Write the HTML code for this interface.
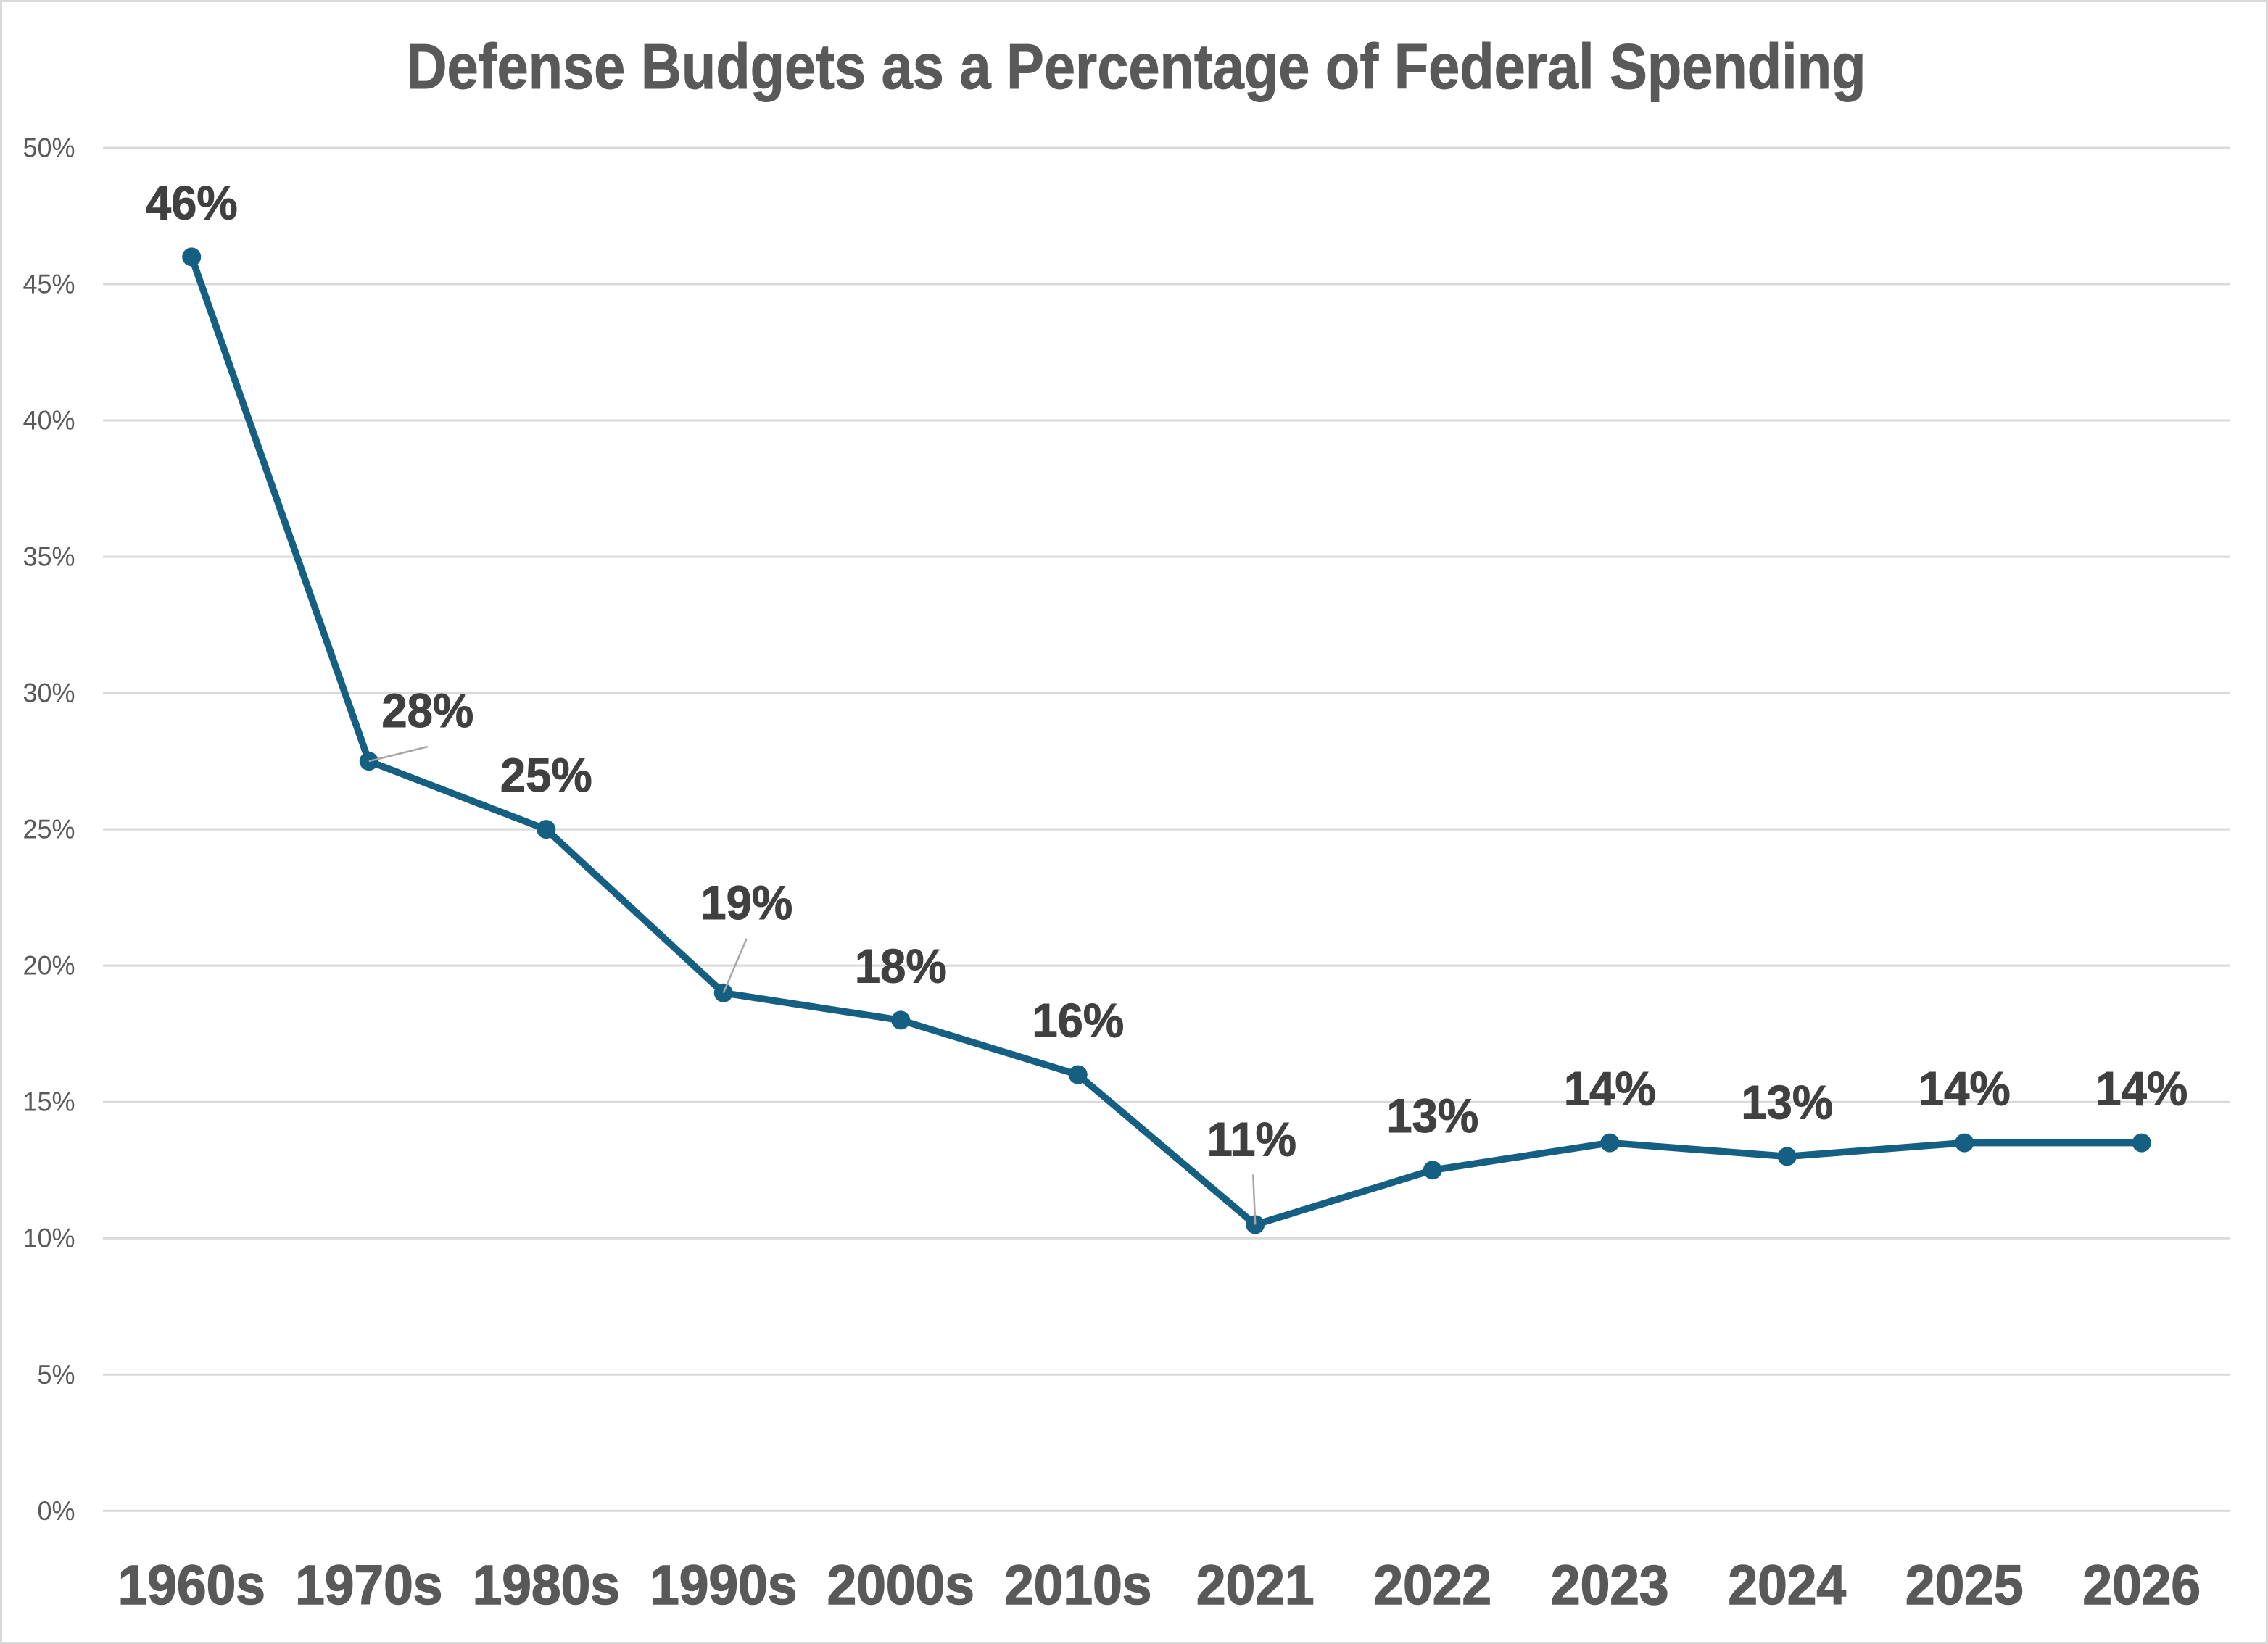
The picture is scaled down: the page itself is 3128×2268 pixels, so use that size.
<!DOCTYPE html>
<html lang="en">
<head>
<meta charset="utf-8">
<title>Defense Budgets as a Percentage of Federal Spending</title>
<style>
html,body{margin:0;padding:0;background:#fff;width:3128px;height:2268px;overflow:hidden}
svg{display:block}
text{font-family:"Liberation Sans",sans-serif}
</style>
</head>
<body>
<svg id="chart" xmlns="http://www.w3.org/2000/svg" width="3128" height="2268" viewBox="0 0 3128 2268">
  <rect x="1.5" y="1.5" width="3125" height="2265" fill="#ffffff" stroke="#d9d9d9" stroke-width="3"/>
  <text x="1567" y="122" text-anchor="middle" font-size="88" font-weight="700" fill="#595959" stroke="#595959" stroke-width="1" textLength="2013" lengthAdjust="spacingAndGlyphs">Defense Budgets as a Percentage of Federal Spending</text>
  <g id="grid"></g>
  <g id="yticks"></g>
  <g id="xticks"></g>
  <g id="leaders"></g>
  <g id="series"></g>
  <g id="labels"></g>
</svg>
<script>
const categories = ["1960s","1970s","1980s","1990s","2000s","2010s","2021","2022","2023","2024","2025","2026"];
const defenseShare = [46,27.5,25,19,18,16,10.5,12.5,13.5,13,13.5,13.5];
const valueLabels = ["46%","28%","25%","19%","18%","16%","11%","13%","14%","13%","14%","14%"];
const yTicks = [0,5,10,15,20,25,30,35,40,45,50];

const plot = {left:142, right:3076, top:204, bottom:2084.3};
const yMax = 50;
const NS = "http://www.w3.org/2000/svg";
const xScale = i => plot.left + (plot.right - plot.left) * (i + 0.5) / categories.length;
const yScale = v => plot.bottom - (plot.bottom - plot.top) * v / yMax;
const make = (parent, tag, attrs, content) => {
  const el = document.createElementNS(NS, tag);
  for (const k in attrs) el.setAttribute(k, attrs[k]);
  if (content !== undefined) el.textContent = content;
  document.getElementById(parent).appendChild(el);
  return el;
};

yTicks.forEach(t => {
  const y = yScale(t);
  const line = make("grid", "line", {x1:plot.left, x2:plot.right, y1:y, y2:y, stroke:"#d9d9d9", "stroke-width":3});
  
  
  const label = make("yticks", "text", {transform:`translate(103.5 ${y + 12.5}) scale(0.96 1)`, "text-anchor":"end", "font-size":37.5, fill:"#595959"}, t + "%");
  
  
});

categories.forEach((c, i) => {
  const label = make("xticks", "text", {transform:`translate(${xScale(i)} 2213) scale(0.95 1)`, "text-anchor":"middle", "font-size":77, "font-weight":700, fill:"#595959", stroke:"#595959", "stroke-width":1.5}, c);
  
  
});

/* Data labels sit above their point; three were dragged aside with leader lines. */
const displaced = {
  "1970s": {dx:81, dy:-47, lx:81, ly:-20},
  "1990s": {dx:32, dy:-102, lx:32, ly:-75},
  "2021":  {dx:-5, dy:-95, lx:-3, ly:-69}
};

const pts = defenseShare.map((v, i) => xScale(i) + "," + yScale(v)).join(" ");
const path = make("series", "polyline", {points:pts, fill:"none", stroke:"#156082", "stroke-width":9.5, "stroke-linejoin":"round", "stroke-linecap":"round"});



defenseShare.forEach((v, i) => {
  const x = xScale(i), y = yScale(v), c = categories[i];
  const marker = make("series", "circle", {cx:x, cy:y, r:13, fill:"#156082"});
  
  
  const d = displaced[c] || {dx:0, dy:-52};
  const label = make("labels", "text", {transform:`translate(${x + d.dx} ${y + d.dy}) scale(0.96 1)`, "text-anchor":"middle", "font-size":66, "font-weight":700, fill:"#404040", stroke:"#404040", "stroke-width":1}, valueLabels[i]);
  
  
  if (d.lx !== undefined) {
    const leader = make("labels", "line", {x1:x, y1:y, x2:x + d.lx, y2:y + d.ly, stroke:"#a6a6a6", "stroke-width":2.5});
    
    
  }
});
</script>
</body>
</html>
